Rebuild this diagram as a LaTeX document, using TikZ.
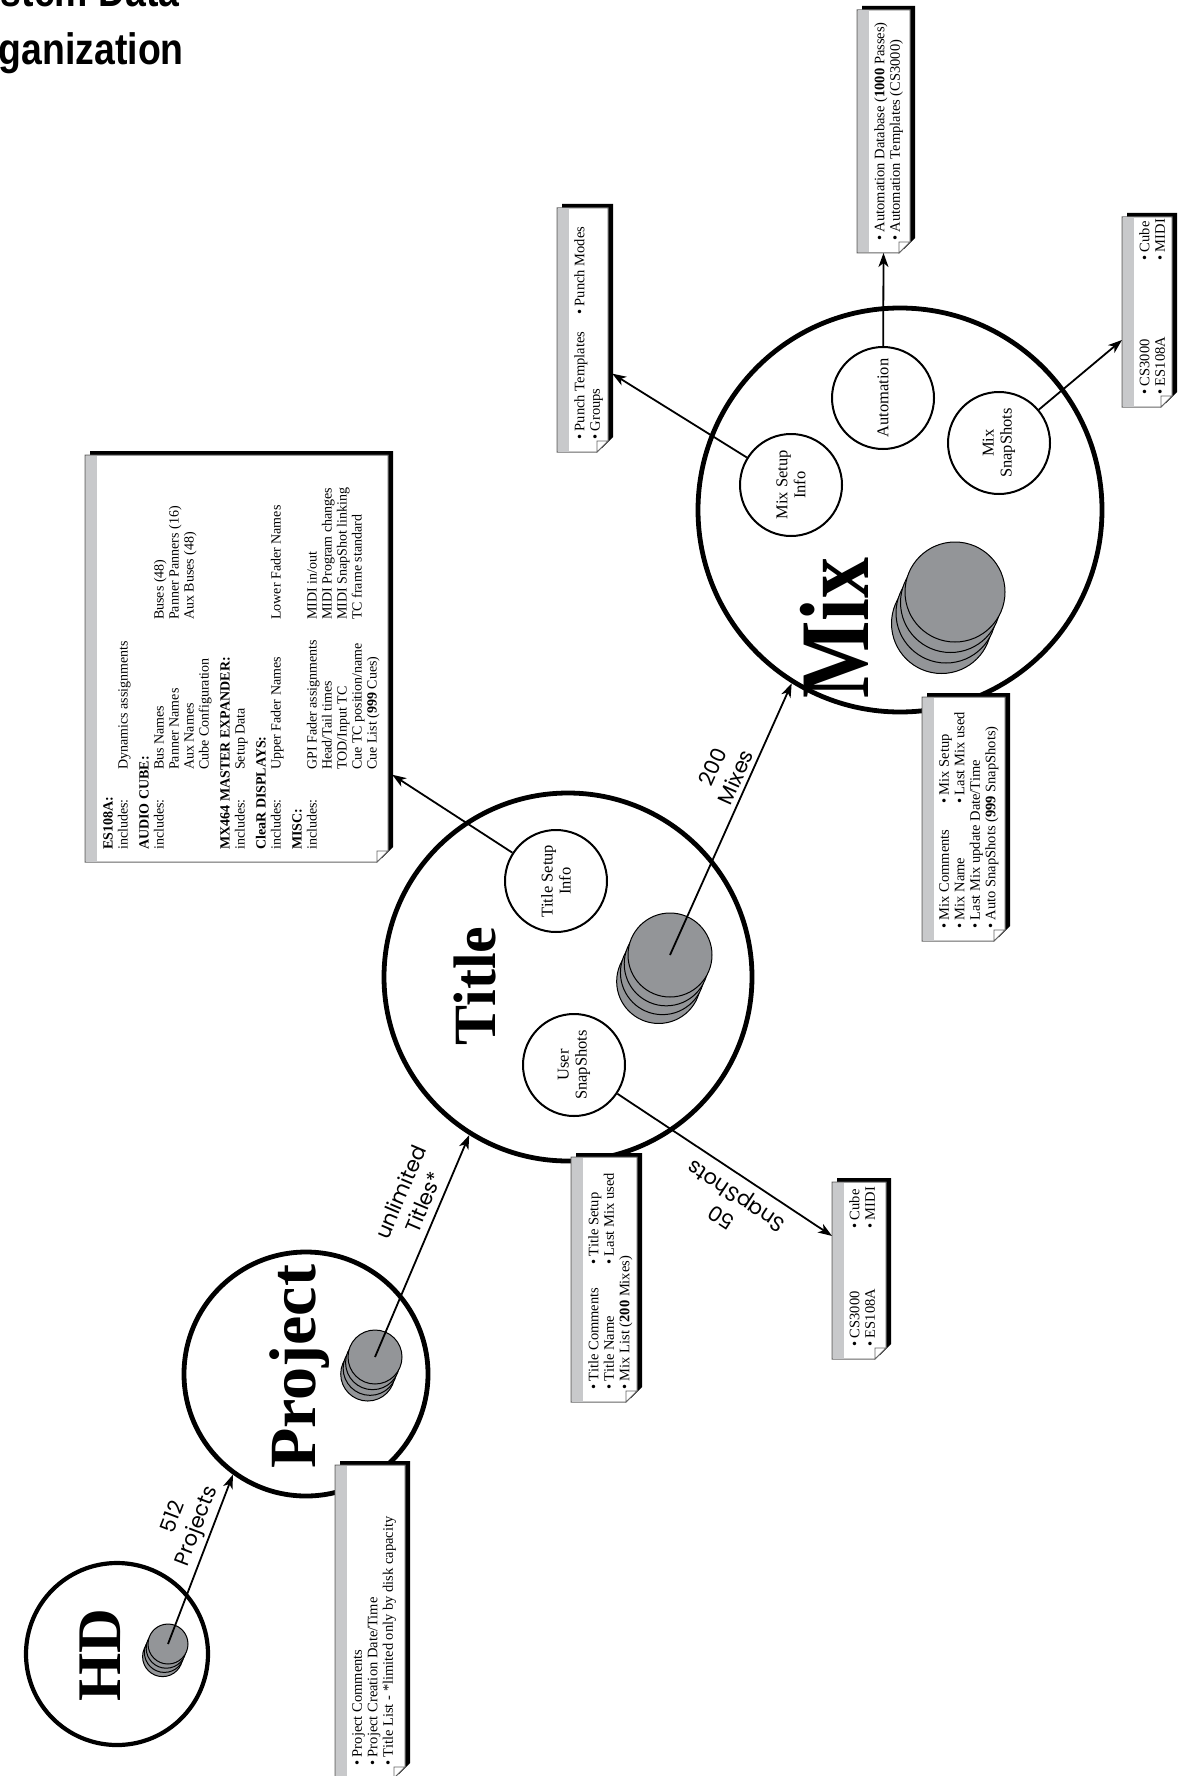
\documentclass[tikz,border=0pt]{standalone}
\usepackage{fontspec}
\usepackage{graphicx}
\setmainfont{Liberation Serif}
\newfontfamily\labfont{Poppins}
\newfontfamily\headfont{Liberation Sans}
\usetikzlibrary{arrows.meta,fit}
\definecolor{diskgray}{RGB}{147,149,152}
\definecolor{stripgray}{RGB}{200,201,203}
\definecolor{edgegray}{RGB}{100,100,100}
\tikzset{
  bigcirc/.style={circle, draw, line width=4.8pt, inner sep=0, minimum size=#1},
  smallcirc/.style={circle, draw, line width=2pt, inner sep=0, minimum size=102pt, fill=white, align=center, rotate=90, font=\fontsize{16.5}{18}\selectfont},
  disk/.style={circle, draw, line width=1pt, fill=diskgray, inner sep=0},
  arr/.style={line width=1.8pt, -{Stealth[length=14pt,width=10pt,inset=4pt]}},
  lab/.style={font=\labfont\fontsize{21}{25}\selectfont, align=center, inner sep=0},
  bigtitle/.style={font=\bfseries\fontsize{#1}{#1}\selectfont, inner sep=0, rotate=90, anchor=base},
  boxtxt/.style={rotate=90, anchor=north west, inner sep=0, align=left, font=\fontsize{14.5}{15.5}\selectfont},
  headtxt/.style={anchor=base west, inner sep=0, font=\headfont\bfseries\fontsize{44}{44}\selectfont}
}
\newcommand\diskstack[5]{%
  \foreach \k in {3,2,1}{\node[disk, minimum size=#5] at ({#2-0.09*#4*\k},{#3+0.21*#4*\k}) {};}
  \node[disk, minimum size=#5] (#1) at (#2,#3) {};}
\newcommand\notebox[6]{%
  \fill[black] ({#2+5},{#3-4}) -- ({#4+5},{#3-4}) -- ({#4+5},{#5-15}) -- ({#4-6},{#5-4}) -- ({#2+5},{#5-4}) -- cycle;
  \filldraw[fill=white, draw=edgegray, line width=1pt] (#2,#3) -- (#4,#3) -- (#4,{#5-11}) -- ({#4-11},#5) -- (#2,#5) -- cycle;
  \fill[stripgray] ({#2+0.5},{#3+0.5}) rectangle ({#2+12},{#5-0.5});
  \filldraw[fill=white, draw=edgegray, line width=0.8pt] ({#4-11},{#5-11}) -- (#4,{#5-11}) -- ({#4-11},#5) -- cycle;
  \node[fit={(#2,#3) (#4,#5)}, inner sep=0, outer sep=0] (#1) {};
  \node[boxtxt] at ({#2+17},{#5-12}) {#6};}
\begin{document}
\begin{tikzpicture}[x=1pt,y=-1pt]
\useasboundingbox[fill=white] (0,0) rectangle (1177,1776);

% heading
\node[headtxt] (head1) at (-45,7) {\scalebox{0.85}[1]{System Data}};
\node[headtxt] (head2) at (-45,65) {\scalebox{0.85}[1]{Organization}};

% big circles
\node[bigcirc=182pt, line width=4.2pt] (hd) at (117,1654) {};
\node[bigcirc=244pt] (proj) at (306,1374) {};
\node[bigcirc=368pt] (title) at (568,977) {};
\node[bigcirc=404pt] (mix) at (900,510) {};

% big labels
\node[bigtitle=62] (hdlab) at (120,1655) {HD};
\node[bigtitle=66] (projlab) at (315,1367) {Project};
\node[bigtitle=60] (titlelab) at (495,986) {Title};
\node[bigtitle=82] (mixlab) at (868,628) {\scalebox{1}[1.2]{Mix}};

% disk stacks
\diskstack{hddisk}{168}{1644}{20}{40pt}
\diskstack{projdisk}{375}{1357}{27}{54pt}
\diskstack{titledisk}{670}{955}{42}{84pt}
\diskstack{mixdisk}{955}{592}{50}{100pt}

% small circles
\node[smallcirc] (tsetup) at (556,881) {Title Setup\\Info};
\node[smallcirc] (usnap) at (574,1065) {User\\SnapShots};
\node[smallcirc] (msetup) at (791,485) {Mix Setup\\Info};
\node[smallcirc] (autoc) at (883,398) {Automation};
\node[smallcirc] (msnap) at (999,443) {Mix\\SnapShots};

% note boxes
\notebox{pbox}{335}{1465}{405}{1778}{• Project Comments\\• Project Creation Date/Time\\• Title List - *limited only by disk capacity}
\notebox{tbox}{571}{1157}{637}{1402}{\makebox[125pt][l]{• Title Comments}• Title Setup\\\makebox[125pt][l]{• Title Name}• Last Mix used\\• Mix List (\textbf{200} Mixes)}
\notebox{mixbox}{922}{697}{1005}{941}{\makebox[125pt][l]{• Mix Comments}• Mix Setup\\\makebox[125pt][l]{• Mix Name}• Last Mix used\\• Last Mix update Date/Time\\• Auto SnapShots (\textbf{999} SnapShots)}
\notebox{punch}{557}{208}{608}{452}{\makebox[125pt][l]{• Punch Templates}• Punch Modes\\• Groups}
\notebox{autobox}{857}{10}{910}{253}{• Automation Database (\textbf{1000} Passes)\\• Automation Templates (CS3000)}
\notebox{msbox}{1122}{217}{1172}{407}{\makebox[134pt][l]{• CS3000}• Cube\\\makebox[134pt][l]{• ES108A}• MIDI}
\notebox{snapbox}{832}{1182}{886}{1359}{\makebox[118pt][l]{• CS3000}• Cube\\\makebox[118pt][l]{• ES108A}• MIDI}
\notebox{bigbox}{85}{455}{388}{862}{\fontsize{14}{15}\selectfont
\begin{tabular}{@{}p{80pt}@{}p{150pt}@{}l@{}}
\multicolumn{3}{@{}l@{}}{\textbf{ES108A:}}\\
includes: & Dynamics assignments\\[6pt]
\multicolumn{3}{@{}l@{}}{\textbf{AUDIO CUBE:}}\\
includes: & Bus Names & Buses (48)\\
 & Panner Names & Panner Panners (16)\\
 & Aux Names & Aux Buses (48)\\
 & Cube Configuration\\[6pt]
\multicolumn{3}{@{}l@{}}{\textbf{MX464 MASTER EXPANDER:}}\\
includes: & Setup Data\\[6pt]
\multicolumn{3}{@{}l@{}}{\textbf{CleaR DISPLAYS:}}\\
includes: & Upper Fader Names & Lower Fader Names\\[6pt]
\multicolumn{3}{@{}l@{}}{\textbf{MISC:}}\\
includes: & GPI Fader assignments & MIDI in/out\\
 & Head/Tail times & MIDI Program changes\\
 & TOD/Input TC & MIDI SnapShot linking\\
 & Cue TC position/name & TC frame standard\\
 & Cue List (\textbf{999} Cues)
\end{tabular}}

% connectors
\draw[arr] (hddisk.center) -- (proj.234);
\draw[arr] (projdisk.center) -- (title.238);
\draw[arr] (titledisk.center) -- (mix.238);
\draw[arr] (usnap) -- (snapbox.128);
\draw[arr, shorten >=5pt] (tsetup) -- (bigbox.east |- 0,772);
\draw[arr, shorten >=5pt] (msetup) -- (punch.east |- 0,371);
\draw[arr] (autoc) -- (autobox.south);
\draw[arr] (msnap) -- (msbox.west |- 0,340);

% connector labels
\node[lab, rotate=69] (l512) at (186,1522) {512\\Projects};
\node[lab, rotate=67] (lunl) at (412,1197) {unlimited\\Titles*};
\node[lab, rotate=66] (l200) at (724,772) {200\\Mixes};
\node[lab, rotate=146.5] (l50) at (730,1205) {50\\SnapShots};
\end{tikzpicture}
\end{document}
